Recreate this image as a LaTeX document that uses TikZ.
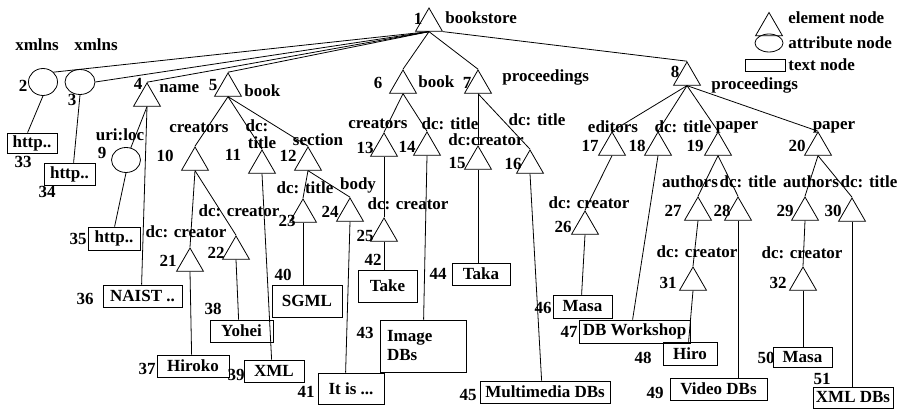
\documentclass[tikz,border=0pt]{standalone}
\usepackage{fontspec}
\setmainfont{Liberation Serif}
\usetikzlibrary{shapes.geometric,calc}
\begin{document}
\begin{tikzpicture}[x=1pt,y=-1pt,
  font=\fontsize{17}{19}\selectfont\bfseries,
  line width=0.8pt,
  tri/.style={regular polygon, regular polygon sides=3, draw, minimum size=31pt, inner sep=0pt},
  att/.style={ellipse, draw, inner sep=0pt},
  tbox/.style={draw, inner sep=0pt},
  lab/.style={inner sep=0pt}]
\useasboundingbox (0,0) rectangle (899,411);

% ---------- element nodes (triangles) ----------
\node[tri] (t1) at (429,23.5) {};
\node[tri] (t4) at (147,98.5) {};
\node[tri] (t5) at (228,88.5) {};
\node[tri] (t6) at (403,85.5) {};
\node[tri] (t7) at (478,85.5) {};
\node[tri] (t8) at (687,77.5) {};
\node[tri] (t10) at (195,162.5) {};
\node[tri] (t11) at (262,165.5) {};
\node[tri] (t12) at (308,162.5) {};
\node[tri] (t13) at (384,148.5) {};
\node[tri] (t14) at (427,147.5) {};
\node[tri] (t15) at (478,161.5) {};
\node[tri] (t16) at (530,165.5) {};
\node[tri] (t17) at (612,147.5) {};
\node[tri] (t18) at (658,147.5) {};
\node[tri] (t19) at (718,147.5) {};
\node[tri] (t20) at (818,147.5) {};
\node[tri] (t21) at (190,263.5) {};
\node[tri] (t22) at (236,251.5) {};
\node[tri] (t23) at (303,214.5) {};
\node[tri] (t24) at (350,213.5) {};
\node[tri] (t25) at (384,233.5) {};
\node[tri] (t26) at (585,226.5) {};
\node[tri] (t27) at (698,212.5) {};
\node[tri] (t28) at (738,212.5) {};
\node[tri] (t29) at (805,212.5) {};
\node[tri] (t30) at (852,213.5) {};
\node[tri] (t31) at (693,282.5) {};
\node[tri] (t32) at (803,282.5) {};

% ---------- attribute nodes ----------
\node[att, minimum width=29pt, minimum height=27pt] (e2) at (43,82) {};
\node[att, minimum width=30pt, minimum height=25pt] (e3) at (80,82) {};
\node[att, minimum width=29pt, minimum height=25pt] (e9) at (126,160) {};

% ---------- text nodes ----------
\node[tbox, minimum width=50pt, minimum height=20pt] (b33) at (32,143) {http..};
\node[tbox, minimum width=51pt, minimum height=22pt] (b34) at (69.5,174) {http..};
\node[tbox, minimum width=52pt, minimum height=23pt] (b35) at (114,238.5) {http..};
\node[tbox, minimum width=79pt, minimum height=22pt] (b36) at (142.5,296) {NAIST ..};
\node[tbox, minimum width=72pt, minimum height=22pt] (b37) at (193,366) {Hiroko};
\node[tbox, minimum width=63pt, minimum height=22pt] (b38) at (241.5,331) {Yohei};
\node[tbox, minimum width=60pt, minimum height=22pt] (b39) at (274,371) {XML};
\node[tbox, minimum width=70pt, minimum height=32pt] (b40) at (307,301) {SGML};
\node[tbox, minimum width=66pt, minimum height=31pt] (b41) at (351,388.5) {It is ...};
\node[tbox, minimum width=59pt, minimum height=32pt] (b42) at (387.5,286) {Take};
\node[tbox, text width=72pt, inner xsep=7pt, align=left, minimum height=52pt] (b43) at (423,346) {Image\\DBs};
\node[tbox, minimum width=58pt, minimum height=22pt] (b44) at (481,274) {Taka};
\node[tbox, minimum width=130pt, minimum height=22pt] (b45) at (545,392) {Multimedia DBs};
\node[tbox, minimum width=59pt, minimum height=23pt] (b46) at (582.5,306.5) {Masa};
\node[tbox, minimum width=111pt, minimum height=23pt] (b47) at (634.5,331.5) {DB Workshop};
\node[tbox, minimum width=54pt, minimum height=23pt] (b48) at (690,353.5) {Hiro};
\node[tbox, minimum width=97pt, minimum height=22pt] (b49) at (718.5,389) {Video DBs};
\node[tbox, minimum width=59pt, minimum height=20pt] (b50) at (802.5,357) {Masa};
\node[tbox, minimum width=80pt, minimum height=21pt] (b51) at (853,397.5) {XML DBs};

% ---------- connectors ----------
\draw (t1.south) -- (e2.north east);
\draw (t1.south) -- (e3.east);
\draw (t1.south) -- (t4.north);
\draw (t1.south) -- (t5.north);
\draw (t1.south) -- (t6.north);
\draw (t1.south) -- (t7.north);
\draw (t1.corner 3) -- (t8.north);
\draw (e2.south) -- ([xshift=21pt]b33.north west);
\draw (e3.south) -- ([xshift=30pt]b34.north west);
\draw (t4.south) -- (e9);
\draw (t4.south) -- ([xshift=39pt]b36.north west);
\draw (e9.south) -- ([xshift=27pt]b35.north west);
\draw (t5.south) -- (t10.north);
\draw (t5.south) -- (t11.north);
\draw (t5.south) -- (t12.north);
\draw (t10.south) -- (t21.north);
\draw (t10.south) -- (t22.north);
\draw (t21.south) -- ([xshift=35pt]b37.north west);
\draw (t22.south) -- ([xshift=29pt]b38.north west);
\draw (t11.south) -- ([xshift=28pt]b39.north west);
\draw (t12.south) -- (t23.north);
\draw (t12.south) -- (t24.north);
\draw (t23.south) -- (t23.south |- b40.north);
\draw (t24.south) -- ([xshift=28pt]b41.north west);
\draw (t6.south) -- (t13.north);
\draw (t6.south) -- (t14.north);
\draw (t13.south) -- (t25.north);
\draw (t25.south) -- (t25.south |- b42.north);
\draw (t14.south) -- ([xshift=44pt]b43.north west);
\draw (t7.south) -- (t15.north);
\draw (t7.south) -- (t16.north);
\draw (t15.south) -- (t15.south |- b44.north);
\draw (t16.south) -- ([xshift=62pt]b45.north west);
\draw (t8.south) -- (t17.north);
\draw (t8.south) -- (t18.north);
\draw (t8.south) -- (t19.north);
\draw (t8.south) -- (t20.north);
\draw (t17.south) -- (t26.north);
\draw (t26.south) -- ([xshift=29pt]b46.north west);
\draw (t18.south) -- ([xshift=54pt]b47.north west);
\draw (t19.south) -- (t27.north);
\draw (t19.south) -- (t28.north);
\draw (t27.south) -- (t31.north);
\draw (t31.south) -- ([xshift=26pt]b48.north west);
\draw (t28.south) -- (t28.south |- b49.north);
\draw (t20.south) -- (t29.north);
\draw (t20.south) -- (t30.north);
\draw (t29.south) -- (t32.north);
\draw (t32.south) -- (t32.south |- b50.north);
\draw (t30.south) -- (t30.south |- b51.north);

% ---------- labels ----------
\node[lab] (x1) at (37,45) {xmlns};
\node[lab] (x2) at (96,45) {xmlns};
\node[lab] (n1) at (418,19) {1};
\node[lab, anchor=west] (l1) at (445,18) {bookstore};
\node[lab] (n2) at (23,86) {2};
\node[lab] (n3) at (72,100) {3};
\node[lab] (n4) at (138,84) {4};
\node[lab, anchor=west] (l4) at (159,89) {name};
\node[lab] (n5) at (213,85) {5};
\node[lab, anchor=west] (l5) at (244,91) {book};
\node[lab] (n6) at (378,83) {6};
\node[lab, anchor=west] (l6) at (418,82) {book};
\node[lab] (n7) at (467,83) {7};
\node[lab, anchor=west] (l7) at (502,77) {proceedings};
\node[lab] (n8) at (675,72) {8};
\node[lab, anchor=west] (l8) at (711,85) {proceedings};
\node[lab] (l9) at (120,135) {uri:loc};
\node[lab] (n9) at (102,153) {9};
\node[lab] (l10) at (199,128) {creators};
\node[lab] (n10) at (165,156) {10};
\node[lab] (l11a) at (257,126) {dc:};
\node[lab] (l11b) at (262,143) {title};
\node[lab] (n11) at (233,155) {11};
\node[lab] (l12) at (318,140) {section};
\node[lab] (n12) at (288,156) {12};
\node[lab] (l23) at (305,188) {dc: title};
\node[lab] (l24) at (358,185) {body};
\node[lab] (n23) at (287,221) {23};
\node[lab] (n24) at (330,212) {24};
\node[lab] (l22) at (239,211) {dc: creator};
\node[lab] (l21) at (186,232) {dc: creator};
\node[lab] (n21) at (168,261) {21};
\node[lab] (n22) at (216,253) {22};
\node[lab] (n40) at (283,275) {40};
\node[lab] (l13) at (378,124) {creators};
\node[lab] (l14) at (450,124) {dc: title};
\node[lab] (n13) at (365,148) {13};
\node[lab] (n14) at (407,147) {14};
\node[lab] (l25) at (408,204) {dc: creator};
\node[lab] (n25) at (365,236) {25};
\node[lab] (n42) at (373,260) {42};
\node[lab] (n43) at (365,333) {43};
\node[lab] (l15) at (486,140) {dc:creator};
\node[lab] (n15) at (457,163) {15};
\node[lab] (l16) at (537,120) {dc: title};
\node[lab] (n16) at (513,164) {16};
\node[lab] (n44) at (438,274) {44};
\node[lab] (n45) at (468,395) {45};
\node[lab] (l17) at (613,127) {editors};
\node[lab] (l18) at (683,127) {dc: title};
\node[lab] (l19) at (737,127) {paper};
\node[lab] (l20) at (834,127) {paper};
\node[lab] (n17) at (590,146) {17};
\node[lab] (n18) at (637,146) {18};
\node[lab] (n19) at (695,146) {19};
\node[lab] (n20) at (797,146) {20};
\node[lab] (l26) at (589,203) {dc: creator};
\node[lab] (n26) at (563,227) {26};
\node[lab] (n46) at (543,308) {46};
\node[lab] (n47) at (569,332) {47};
\node[lab] (l27) at (690,182) {authors};
\node[lab] (l28) at (748,182) {dc: title};
\node[lab] (l29) at (811,182) {authors};
\node[lab] (l30) at (869,182) {dc: title};
\node[lab] (n27) at (673,211) {27};
\node[lab] (n28) at (722,211) {28};
\node[lab] (n29) at (785,211) {29};
\node[lab] (n30) at (833,211) {30};
\node[lab] (l31) at (697,252) {dc: creator};
\node[lab] (l32) at (802,253) {dc: creator};
\node[lab] (n31) at (668,283) {31};
\node[lab] (n32) at (778,283) {32};
\node[lab] (n48) at (643,358) {48};
\node[lab] (n49) at (655,393) {49};
\node[lab] (n50) at (766,358) {50};
\node[lab] (n51) at (822,379) {51};
\node[lab] (n33) at (23,162) {33};
\node[lab] (n34) at (47,192) {34};
\node[lab] (n35) at (78,239) {35};
\node[lab] (n36) at (85,299) {36};
\node[lab] (n37) at (147,369) {37};
\node[lab] (n38) at (213,309) {38};
\node[lab] (n39) at (236,375) {39};
\node[lab] (n41) at (306,392) {41};

% ---------- legend ----------
\node[tri] (gt) at (769,28) {};
\node[att, minimum width=28pt, minimum height=18pt] (ge) at (769,43) {};
\node[tbox, minimum width=40pt, minimum height=12pt] (gr) at (765,65) {};
\node[lab, anchor=west] (gtl) at (788,18) {element node};
\node[lab, anchor=west] (gel) at (788,43) {attribute node};
\node[lab, anchor=west] (grl) at (788,65) {text node};
\end{tikzpicture}
\end{document}
